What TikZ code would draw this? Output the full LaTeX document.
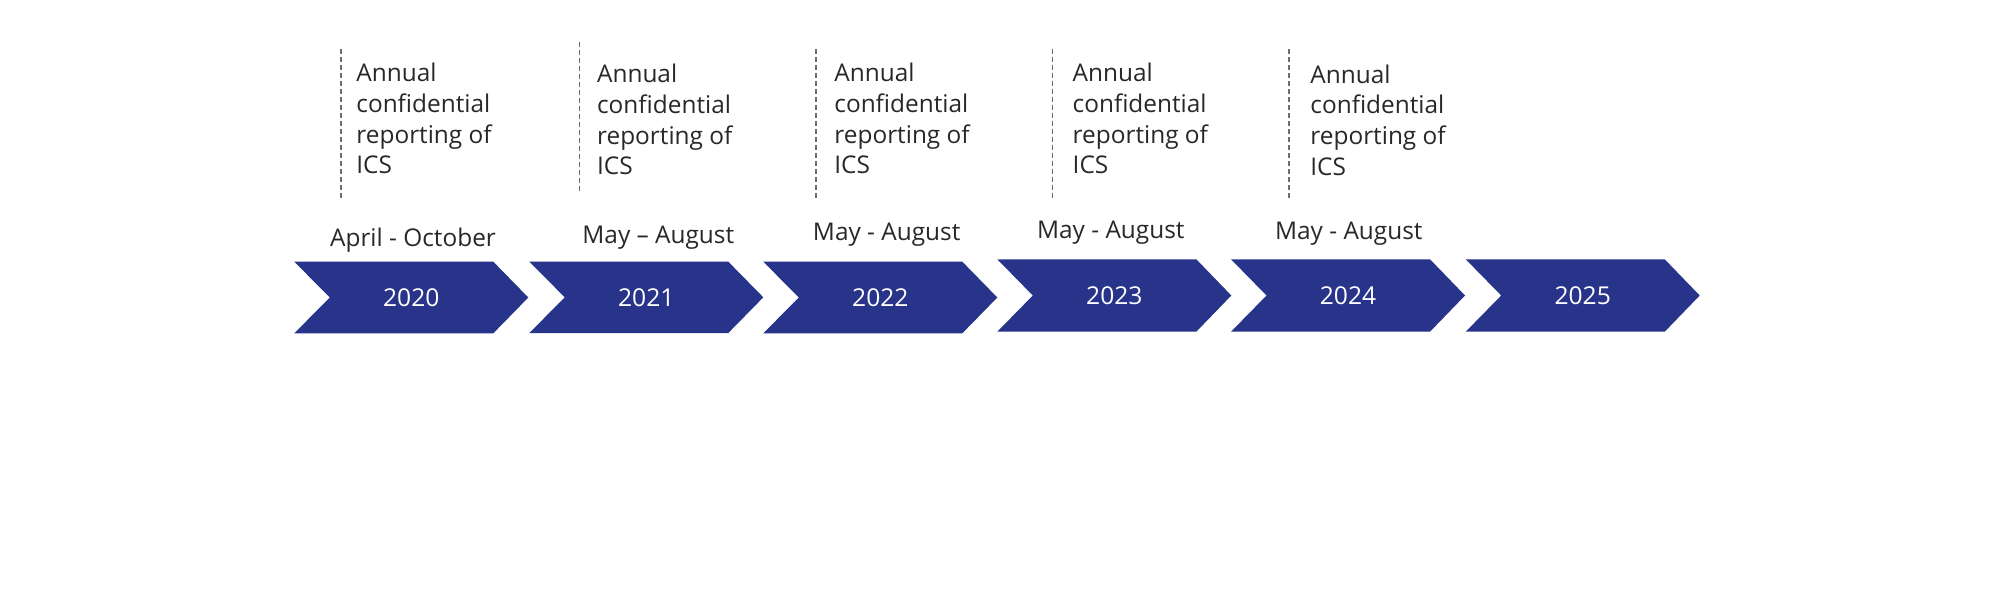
\documentclass[tikz,border=0pt]{standalone}
\usepackage{fontspec}
\setmainfont{Open Sans}
\definecolor{chevblue}{RGB}{40,52,138}
\definecolor{txtgray}{RGB}{40,40,40}
\definecolor{dashgray}{RGB}{110,110,110}
\begin{document}
\begin{tikzpicture}[x=0.5pt,y=-0.5pt,
  chev/.style={fill=chevblue},
  yearlbl/.style={text=white,font=\fontsize{12.3}{14}\selectfont,inner sep=0pt},
  datelbl/.style={text=txtgray,font=\fontsize{12.2}{14}\selectfont,inner sep=0pt,anchor=base},
  notelbl/.style={text=txtgray,font=\fontsize{12.2}{15.35}\selectfont,inner sep=0pt,anchor=base west,align=left},
  dashln/.style={draw=dashgray,line width=0.75pt,dash pattern=on 2.5pt off 1.5pt}]
\useasboundingbox (0,0) rectangle (2000,593);
% chevrons
\newcommand{\mychev}[4]{% #1 left x, #2 top y, #3 bottom y, #4 name
  \fill[chev] (#1,#2) -- ({#1+199},#2) -- ({#1+234},{(#2+#3)/2}) -- ({#1+199},#3) -- (#1,#3) -- ({#1+35.5},{(#2+#3)/2}) -- cycle;
  \coordinate (#4) at ({#1+117},{(#2+#3)/2});
}
\mychev{294.3}{261.7}{333.3}{c1}
\mychev{529.3}{261.7}{333.0}{c2}
\mychev{763.3}{261.7}{333.3}{c3}
\mychev{997.3}{259.3}{331.7}{c4}
\mychev{1231.0}{259.3}{331.7}{c5}
\mychev{1465.7}{259.3}{331.7}{c6}
\node[yearlbl] (y1) at (c1) {2020};
\node[yearlbl] (y2) at (c2) {2021};
\node[yearlbl] (y3) at (c3) {2022};
\node[yearlbl] (y4) at (c4) {2023};
\node[yearlbl] (y5) at (c5) {2024};
\node[yearlbl] (y6) at (c6) {2025};
% date labels
\node[datelbl] (d1) at (413,246.7) {April - October};
\node[datelbl] (d2) at (658.3,243.3) {May – August};
\node[datelbl] (d3) at (886.7,240.7) {May - August};
\node[datelbl] (d4) at (1110.8,239) {May - August};
\node[datelbl] (d5) at (1348.8,240) {May - August};
% dashed lines
\coordinate (t1) at (341,49.3);   \coordinate (b1) at (341,200.7);
\coordinate (t2) at (579.3,41.7); \coordinate (b2) at (579.3,193.3);
\coordinate (t3) at (816,49.3);   \coordinate (b3) at (816,200.7);
\coordinate (t4) at (1052.3,49.3);\coordinate (b4) at (1052.3,200.7);
\coordinate (t5) at (1289,49.3);  \coordinate (b5) at (1289,200.7);
\foreach \i in {1,...,5} {\draw[dashln] (t\i) -- (b\i);}
% notes (anchor = baseline of the last line)
\node[notelbl] (n1) at (356,173.8) {Annual\\confidential\\reporting of\\ICS};
\node[notelbl] (n2) at (596.7,174.8) {Annual\\confidential\\reporting of\\ICS};
\node[notelbl] (n3) at (834,173.8) {Annual\\confidential\\reporting of\\ICS};
\node[notelbl] (n4) at (1072.3,173.8) {Annual\\confidential\\reporting of\\ICS};
\node[notelbl] (n5) at (1310,175.4) {Annual\\confidential\\reporting of\\ICS};
\end{tikzpicture}
\end{document}
